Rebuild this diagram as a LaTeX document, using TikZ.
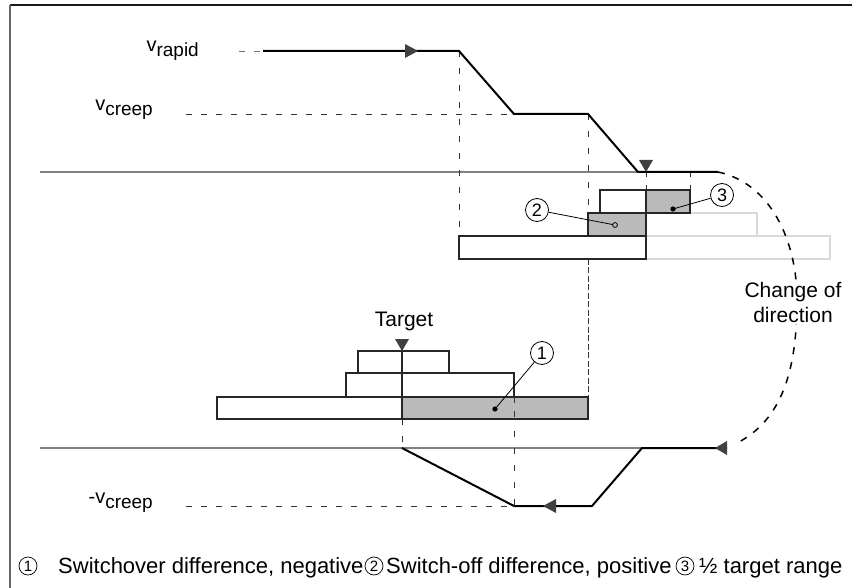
\documentclass[tikz,border=0pt]{standalone}
\usepackage{fontspec}
\setmainfont{Liberation Sans}
\begin{document}
\begin{tikzpicture}[x=1pt,y=-1pt,
  motion/.style={line width=2pt, black, line join=miter},
  axisline/.style={black!50, line width=1.1pt},
  guide/.style={dash pattern=on 6pt off 9pt, line width=0.9pt, black!80},
  darkbox/.style={draw=black!85, line width=1.2pt},
  lightbox/.style={draw=black!15, line width=1.2pt},
  grayfill/.style={fill=black!27},
  tri/.style={fill=black!75},
  callout/.style={circle, draw, line width=0.8pt, minimum size=23pt, inner sep=0pt, font=\fontsize{18}{18}\selectfont},
  legcirc/.style={circle, draw, line width=0.7pt, minimum size=18pt, inner sep=0pt, font=\fontsize{15}{15}\selectfont},
  lbl/.style={font=\fontsize{21}{25}\selectfont, inner sep=0pt},
  leg/.style={font=\fontsize{22}{25}\selectfont, inner sep=0pt, anchor=base west},
  vlbl/.style={font=\fontsize{20}{22}\selectfont, inner sep=0pt, anchor=base east}]
\useasboundingbox (0,0) rectangle (852,588);
% frame
\draw[black!90, line width=1.5pt] (10,5) -- (860,5);
\draw[black!60, line width=1.5pt] (10,5) -- (10,600);

% ---- coordinates of the motion profile
\coordinate (r0) at (263,51);
\coordinate (r1) at (459,51);
\coordinate (c0) at (514,114);
\coordinate (c1) at (588,114);
\coordinate (s0) at (638,172);
\coordinate (s1) at (718,172);
\coordinate (n0) at (727,448);
\coordinate (n1) at (642,448);
\coordinate (n2) at (592,506);
\coordinate (n3) at (514,506);
\coordinate (n4) at (402,448);

% axis lines
\draw[axisline] (40,172) -- (s0);
\draw[axisline] (40,448) -- (n1);

% speed labels and guides
\node[vlbl] (vrapid) at (199,52) {v\raisebox{-5pt}{\fontsize{19}{20}\selectfont rapid}};
\node[vlbl] (vcreep) at (153,111) {v\raisebox{-5pt}{\fontsize{19}{20}\selectfont creep}};
\node[vlbl] (vneg) at (153,503) {-v\raisebox{-5pt}{\fontsize{19}{20}\selectfont creep}};
\draw[guide, black!55] (239,51) -- (r0);
\draw[guide] (186,114) -- (c0);
\draw[guide] (186,506) -- (n3);

% vertical guides
\draw[guide, dash pattern=on 6pt off 11pt] (r1) -- (459,236);
\draw[guide, dash pattern=on 6pt off 11pt] (c1) -- (588,397);
\draw[guide, dash pattern=on 5pt off 8pt] (646,172) -- (646,190);
\draw[guide, dash pattern=on 5pt off 8pt] (690,172) -- (690,190);
\draw[guide, dash pattern=on 6pt off 11pt] (402,419) -- (402,448);
\draw[guide, dash pattern=on 6pt off 11pt] (514,397) -- (514,506);

% ---- upper bars
\draw[lightbox, fill=white] (646,236) rectangle (830,259);
\draw[lightbox, fill=white] (646,213) rectangle (757,236);
\draw[darkbox, fill=white] (459,236) rectangle (646,259);
\draw[darkbox, grayfill] (588,213) rectangle (646,236);
\draw[darkbox, fill=white] (600,190) rectangle (646,213);
\draw[darkbox, grayfill] (646,190) rectangle (690,213);
\draw[guide, dash pattern=on 6pt off 11pt] (588,259) -- (588,397);

% ---- lower bars
\draw[darkbox, fill=white] (358,351) rectangle (449,373);
\draw[darkbox, fill=white] (346,373) rectangle (514,397);
\draw[darkbox, fill=white] (217,397) rectangle (402,419);
\draw[darkbox, grayfill] (402,397) rectangle (588,419);
\draw[guide, dash pattern=on 6pt off 8pt] (514,397) -- (514,419);
\draw[black!85, line width=1.2pt] (402,339) -- (402,419);

% ---- motion profile
\draw[motion] (r0) -- (r1) -- (c0) -- (c1) -- (s0) -- (s1);
\draw[motion] (n0) -- (n1) -- (n2) -- (n3) -- (n4);

% arrowheads / markers
\fill[tri] (418,51) -- (405,44) -- (405,58) -- cycle;
\fill[tri] (646,172) -- (639,160) -- (653,160) -- cycle;
\fill[tri] (402,351) -- (395,339) -- (409,339) -- cycle;
\fill[tri] (543,506) -- (556,499) -- (556,513) -- cycle;
\fill[tri] (715,448) -- (727,441) -- (727,455) -- cycle;

% change of direction
\draw[line width=1.5pt, dash pattern=on 7pt off 8pt] (s1) .. controls (770,183) and (797,240) .. (797,300) .. controls (797,370) and (782,420) .. (737,443);
\node[lbl, fill=white, align=center, inner sep=2pt] (cod) at (793,302) {Change of\\direction};
\node[lbl] (target) at (404,321) {Target};

% ---- callouts
\node[callout] (k1) at (542,353) {1};
\node[callout] (k2) at (537,210) {2};
\node[callout] (k3) at (722,195) {3};
\fill (495,409) circle (2.6pt) coordinate (d1);
\draw[line width=0.8pt, fill=black!27] (615,225) circle (2.4pt) coordinate (d2);
\fill (673,209) circle (2.6pt) coordinate (d3);
\draw[line width=0.8pt] (k1) -- (d1);
\draw[line width=0.8pt] (k2) -- (613,224.6);
\draw[line width=0.8pt] (k3) -- (d3);

% ---- legend
\node[legcirc] (l1) at (28,566) {1};
\node[leg] (t1) at (58,573) {Switchover difference, negative};
\node[legcirc] (l2) at (374,566) {2};
\node[leg] (t2) at (386,573) {Switch-off difference, positive};
\node[legcirc] (l3) at (685,566) {3};
\node[leg] (t3) at (699,573) {½ target range};
\end{tikzpicture}
\end{document}
